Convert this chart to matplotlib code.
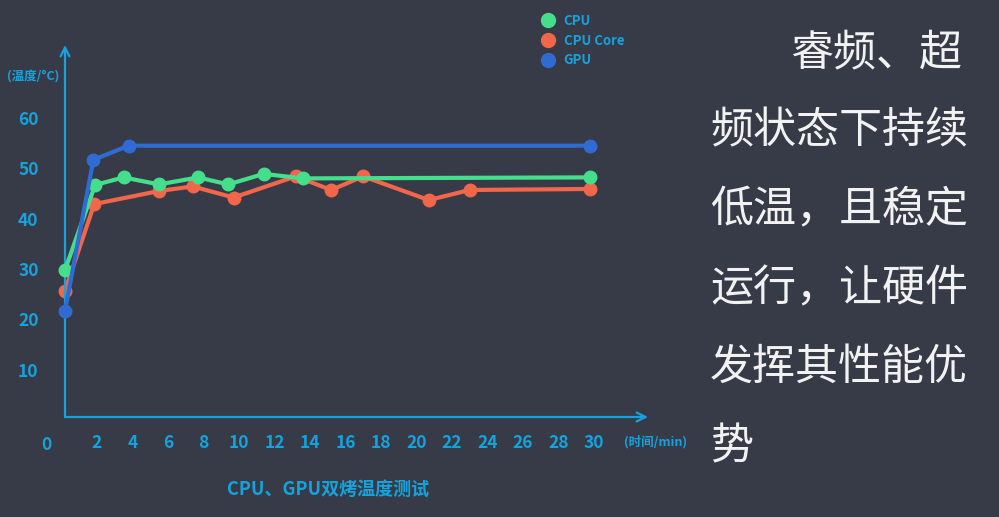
import matplotlib
matplotlib.use("Agg")
import matplotlib.pyplot as plt
from matplotlib.lines import Line2D

plt.rcParams['font.family'] = ['Noto Sans CJK SC', 'DejaVu Sans']

# temperatures (deg C) against time (min)
cpu_t = [0.2, 1.9, 3.5, 5.5, 7.7, 9.4, 11.4, 13.6, 29.8]
cpu_v = [29.8, 46.7, 48.2, 46.8, 48.2, 46.8, 48.9, 48.0, 48.2]
core_t = [0.2, 1.85, 5.5, 7.4, 9.7, 13.2, 15.2, 17.0, 20.7, 23.0, 29.8]
core_v = [25.7, 42.9, 45.5, 46.4, 44.2, 48.4, 45.7, 48.4, 43.7, 45.7, 45.9]
gpu_t = [0.2, 1.8, 3.8, 29.8]
gpu_v = [21.7, 51.7, 54.5, 54.5]

x_ticks = [2, 4, 6, 8, 10, 12, 14, 16, 18, 20, 22, 24, 26, 28, 30]
y_ticks = [10, 20, 30, 40, 50, 60]

side_text = ["睿频、超", "频状态下持续", "低温，且稳定",
             "运行，让硬件", "发挥其性能优", "势"]

bg = "#373b48"
cyan = "#14a3dd"
green = "#45df8c"
orange = "#f2664a"
blue = "#2f6bd2"

fig = plt.figure(figsize=(9.99, 5.17), dpi=100, facecolor=bg)
ax = fig.add_axes([65 / 999, 1 - 417 / 517, 583 / 999, 372 / 517])
ax.set_facecolor(bg)

ax.plot(core_t, core_v, color=orange, lw=3, marker="o", ms=9, zorder=3,
        clip_on=False)
ax.plot(cpu_t, cpu_v, color=green, lw=3, marker="o", ms=9, zorder=4,
        clip_on=False)
ax.plot(gpu_t, gpu_v, color=blue, lw=3, marker="o", ms=9, zorder=5,
        clip_on=False)

ax.set_xlim(0.2, 33.05)
ax.set_ylim(0.6, 74.5)
for s in ax.spines.values():
    s.set_visible(False)

# axis lines with open arrow heads
ax.annotate("", xy=(1, 0), xytext=(0, 0), xycoords="axes fraction",
            arrowprops=dict(arrowstyle="->", color=cyan, lw=1.6,
                            mutation_scale=16, shrinkA=0, shrinkB=0))
ax.annotate("", xy=(0, 1), xytext=(0, 0), xycoords="axes fraction",
            arrowprops=dict(arrowstyle="->", color=cyan, lw=1.6,
                            mutation_scale=16, shrinkA=0, shrinkB=0))

ax.set_xticks(x_ticks)
ax.set_yticks(y_ticks)
ax.tick_params(length=0, colors=cyan, labelsize=12.5)
ax.tick_params(axis="y", pad=19)
ax.tick_params(axis="x", pad=12)
for lab in ax.get_xticklabels() + ax.get_yticklabels():
    lab.set_fontweight("bold")
ax.text(-0.85, -3.2, "0", color=cyan, fontsize=12.5, fontweight="bold",
        ha="center", va="top", clip_on=False)

fig.text(33 / 999, 1 - 77 / 517, "(温度/°C)", color=cyan, fontsize=9,
         fontweight="bold", ha="center", va="center")
fig.text(656 / 999, 1 - 442 / 517, "(时间/min)", color=cyan, fontsize=9,
         fontweight="bold", ha="center", va="center")
fig.text(328 / 999, 1 - 489 / 517, "CPU、GPU双烤温度测试", color=cyan,
         fontsize=13, fontweight="bold", ha="center", va="center")

handles = [Line2D([], [], ls="none", marker="o", ms=10, color=c)
           for c in (green, orange, blue)]
leg = fig.legend(handles, ["CPU", "CPU Core", "GPU"], loc="upper left",
                 bbox_to_anchor=(536 / 999, 1 - 7 / 517), frameon=False,
                 prop={"size": 9.5, "weight": "bold"}, labelcolor=cyan,
                 handlelength=0.8, handletextpad=0.8, labelspacing=0.45,
                 borderpad=0)

for i, line in enumerate(side_text):
    x = 790 if i == 0 else 710
    fig.text(x / 999, 1 - (53 + i * 78.8) / 517, line, color="#f2f2f2",
             fontsize=31, ha="left", va="center")

fig.savefig("out.png", dpi=100, facecolor=bg)
